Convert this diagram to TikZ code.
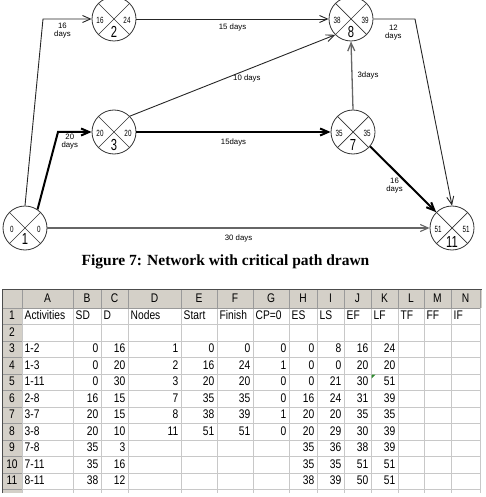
\documentclass[tikz,border=0pt]{standalone}
\usepackage{fontspec}
\setmainfont{Liberation Serif}
\newfontfamily\cellfont[FakeStretch=0.82]{Liberation Sans}
\newfontfamily\netfont{Liberation Sans}
\newfontfamily\idfont[FakeStretch=0.7]{Liberation Sans}
\usetikzlibrary{arrows.meta, positioning, calc}

\definecolor{xlgrey}{HTML}{D4D0C8}
\definecolor{gridgrey}{HTML}{C8C8C8}
\definecolor{hdrline}{HTML}{9A9A9A}
\definecolor{errgreen}{HTML}{2E8B2E}

\begin{document}
\begin{tikzpicture}[
    x=1pt, y=-1pt,
    event/.style={circle, draw=black!80, line width=0.8pt, minimum size=44pt, inner sep=0pt,
        path picture={\draw[black!80, line width=0.7pt]
            (path picture bounding box.north west) -- (path picture bounding box.south east)
            (path picture bounding box.north east) -- (path picture bounding box.south west);}},
    time/.style={font=\idfont\fontsize{9}{9}\selectfont, inner sep=0pt},
    evid/.style={font=\idfont\fontsize{16}{16}\selectfont, inner sep=0pt},
    act/.style={draw=black!85, line width=0.9pt, -{Straight Barb[length=8pt, width=7pt]}},
    crit/.style={act, draw=black, line width=2pt},
    dur/.style={font=\netfont\fontsize{7.8}{8}\selectfont, align=center, inner sep=0pt},
    caption/.style={font=\bfseries\fontsize{15.5}{16}\selectfont, inner sep=0pt},
    cell/.style={font=\cellfont\fontsize{12.5}{13}\selectfont, inner sep=0pt,
        text height=9pt, text depth=2.5pt}
]
    \useasboundingbox (0,0) rectangle (485,497);

    % events
    \node[event] (e1) at (25,228) {};
    \node[event] (e2) at (114,19) {};
    \node[event] (e3) at (114,132) {};
    \node[event] (e7) at (353,132) {};
    \node[event] (e8) at (351,19) {};
    \node[event] (e11) at (452,228) {};

    % times and event numbers
    \node[time] at ([xshift=-13pt, yshift=-1pt]e1.center) {0};
    \node[time] at ([xshift=14pt, yshift=-1pt]e1.center) {0};
    \node[evid] at ([yshift=-11pt]e1.center) {1};
    \node[time] at ([xshift=-14pt, yshift=-1pt]e2.center) {16};
    \node[time] at ([xshift=13pt, yshift=-1pt]e2.center) {24};
    \node[evid] at ([yshift=-13pt]e2.center) {2};
    \node[time] at ([xshift=-14pt, yshift=-1pt]e3.center) {20};
    \node[time] at ([xshift=14pt, yshift=-1pt]e3.center) {20};
    \node[evid] at ([yshift=-13pt]e3.center) {3};
    \node[time] at ([xshift=-14pt, yshift=-1pt]e7.center) {35};
    \node[time] at ([xshift=14pt, yshift=-1pt]e7.center) {35};
    \node[evid] at ([yshift=-13pt]e7.center) {7};
    \node[time] at ([xshift=-14pt, yshift=-1pt]e8.center) {38};
    \node[time] at ([xshift=14pt, yshift=-1pt]e8.center) {39};
    \node[evid] at ([yshift=-13pt]e8.center) {8};
    \node[time] at ([xshift=-14pt, yshift=-1pt]e11.center) {51};
    \node[time] at ([xshift=14pt, yshift=-1pt]e11.center) {51};
    \node[evid] at ([yshift=-14pt]e11.center) {11};

    % activities
    \draw[act] (e1.north) -- (43,19) -- node[dur, pos=0.4, below=4pt] {16\\days} (e2);
    \draw[crit] (e1.56) -- (58,132) -- node[dur, pos=0.35, below=1pt] {20\\days} (e3);
    \draw[act, draw=black!60, line width=1.1pt] (e1) -- node[dur, midway, below=6pt] {30 days} (e11);
    \draw[act] (e2) -- node[dur, midway, below=4pt] {15 days} (e8);
    \draw[act] (e3.north east) -- node[dur, pos=0.57, below=5pt] {10 days} (e8.south west);
    \draw[crit] (e3) -- node[dur, midway, below=6pt] {15days} (e7);
    \draw[act, draw=black!60, line width=1.3pt] (e7.north) -- node[dur, midway, right=5pt] {3days} (e8.south);
    \draw[crit] (e7.-40) -- node[dur, pos=0.6, left=6pt] {16\\days} (e11.north west);
    \draw[act] (e8) -- node[dur, pos=0.48, below=6pt] {12\\days} (415,19) -- (e11.north);

    \node[caption] (cap) at (225.5,262) {Figure 7: Network with critical path drawn};

    % spreadsheet
    \fill[xlgrey] (2,289) rectangle (482,308);
    \fill[xlgrey] (2,308) rectangle (22,493);
    \foreach \k in {0,...,11}
        \draw[gridgrey, line width=0.8pt] (22,{308+16.5*\k}) -- (480,{308+16.5*\k});
    \foreach \k in {1,...,11}
        \draw[hdrline, line width=0.8pt] (2,{308+16.5*\k}) -- (22,{308+16.5*\k});
    \foreach \x in {22,73,101,128,181,217,253,289,317,344,371,398,424,451,480}
        \draw[gridgrey, line width=0.8pt] (\x,308) -- (\x,493);
    \foreach \x in {22,73,101,128,181,217,253,289,317,344,371,398,424,451,480}
        \draw[hdrline, line width=0.8pt] (\x,289) -- (\x,308);
    \draw[hdrline, line width=0.8pt] (2,308) -- (480,308);
    \draw[black!70, line width=1pt] (2,493) -- (2,289) -- (482,289);
    \fill[errgreen] (371.5,374.5) -- (375.5,374.5) -- (371.5,378.5) -- cycle;

    % column letters and row numbers
    \foreach \l/\xa/\xb in {A/22/73, B/73/101, C/101/128, D/128/181, E/181/217, F/217/253,
        G/253/289, H/289/317, I/317/344, J/344/371, K/371/398, L/398/424, M/424/451, N/451/480}
        \node[cell] at ({(\xa+\xb)/2},299) {\l};
    \foreach \r in {1,...,11}
        \node[cell] at (12,{299.75+16.5*\r}) {\r};

    % headings
    \foreach \t/\xa in {Activities/22, SD/73, D/101, Nodes/128, Start/181, Finish/217, CP=0/253,
        ES/289, LS/317, EF/344, LF/371, TF/398, FF/424, IF/451}
        \node[cell, anchor=west] at (\xa+2.5,316.25) {\t};

    % activities, SD, D
    \foreach \r/\a/\b/\c in {3/1-2/0/16, 4/1-3/0/20, 5/1-11/0/30, 6/2-8/16/15, 7/3-7/20/15,
        8/3-8/20/10, 9/7-8/35/3, 10/7-11/35/16, 11/8-11/38/12} {
        \node[cell, anchor=west] at (24.5,{299.75+16.5*\r}) {\a};
        \node[cell, anchor=east] at (98.5,{299.75+16.5*\r}) {\b};
        \node[cell, anchor=east] at (125.5,{299.75+16.5*\r}) {\c};
    }
    % nodes, start, finish, CP
    \foreach \r/\d/\e/\f/\g in {3/1/0/0/0, 4/2/16/24/1, 5/3/20/20/0, 6/7/35/35/0,
        7/8/38/39/1, 8/11/51/51/0} {
        \node[cell, anchor=east] at (178.5,{299.75+16.5*\r}) {\d};
        \node[cell, anchor=east] at (214.5,{299.75+16.5*\r}) {\e};
        \node[cell, anchor=east] at (250.5,{299.75+16.5*\r}) {\f};
        \node[cell, anchor=east] at (286.5,{299.75+16.5*\r}) {\g};
    }
    % ES, LS, EF, LF
    \foreach \r/\h/\i/\j/\k in {3/0/8/16/24, 4/0/0/20/20, 5/0/21/30/51, 6/16/24/31/39,
        7/20/20/35/35, 8/20/29/30/39, 9/35/36/38/39, 10/35/35/51/51, 11/38/39/50/51} {
        \node[cell, anchor=east] at (314.5,{299.75+16.5*\r}) {\h};
        \node[cell, anchor=east] at (341.5,{299.75+16.5*\r}) {\i};
        \node[cell, anchor=east] at (368.5,{299.75+16.5*\r}) {\j};
        \node[cell, anchor=east] at (395.5,{299.75+16.5*\r}) {\k};
    }
\end{tikzpicture}
\end{document}
